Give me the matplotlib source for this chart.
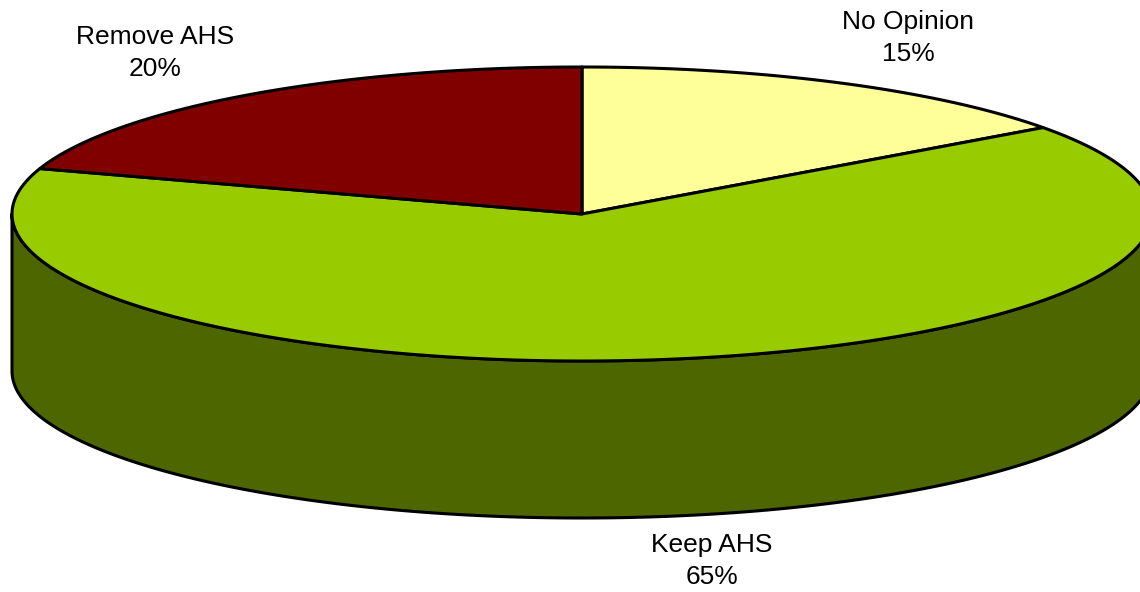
import numpy as np
import matplotlib
matplotlib.use("Agg")
import matplotlib.pyplot as plt
from matplotlib.patches import Polygon

# Survey results
categories = ["No Opinion", "Keep AHS", "Remove AHS"]
shares = [15, 65, 20]
top_colors = ["#FFFF99", "#99CC00", "#800000"]
side_colors = ["#B3B36B", "#4D6600", "#5A0000"]
label_pos = [(908, 38), (712, 561), (155, 53)]

plt.rcParams["font.family"] = ["Liberation Sans", "DejaVu Sans"]

W, H = 1140, 592
fig = plt.figure(figsize=(W / 100, H / 100), dpi=100)
ax = fig.add_axes([0, 0, 1, 1])
ax.set_xlim(0, W)
ax.set_ylim(H, 0)
ax.axis("off")

# Pie geometry (pixel space, y grows downward)
cx, cy = 582, 214
rx, ry = 570, 147
depth = 157


def pt(t, dy=0.0):
    return cx + rx * np.cos(t), cy - ry * np.sin(t) + dy


# Angular extents: start at 12 o'clock, go clockwise
fracs = np.array(shares, dtype=float) / sum(shares)
starts = np.deg2rad(90) - 2 * np.pi * np.concatenate([[0], np.cumsum(fracs)[:-1]])
ends = starts - 2 * np.pi * fracs

# Side wall: visible front half (angles pi..2pi), coloured by the slice covering it
for s, e, sc in zip(starts, ends, side_colors):
    lo, hi = e, s
    segs = []
    for k in range(-2, 3):
        a = max(lo, np.pi + 2 * np.pi * k)
        b = min(hi, 2 * np.pi + 2 * np.pi * k)
        if b > a:
            segs.append((a, b))
    for a, b in segs:
        t = np.linspace(a, b, 300)
        xt, yt = pt(t)
        xb, yb = pt(t[::-1], depth)
        poly = np.column_stack([np.concatenate([xt, xb]), np.concatenate([yt, yb])])
        ax.add_patch(Polygon(poly, closed=True, facecolor=sc, edgecolor="black",
                             linewidth=2.2, joinstyle="round", zorder=1))

# Top face wedges
for s, e, c in zip(starts, ends, top_colors):
    t = np.linspace(s, e, 400)
    xs, ys = pt(t)
    poly = np.column_stack([np.concatenate([[cx], xs]), np.concatenate([[cy], ys])])
    ax.add_patch(Polygon(poly, closed=True, facecolor=c, edgecolor="black",
                         linewidth=2.2, joinstyle="round", zorder=2))

# Labels
for name, v, (lx, ly) in zip(categories, shares, label_pos):
    ax.text(lx, ly, f"{name}\n{v}%", ha="center", va="center", fontsize=19,
            linespacing=1.38, color="black", zorder=3)

fig.savefig("out.png", dpi=100, facecolor="white")
